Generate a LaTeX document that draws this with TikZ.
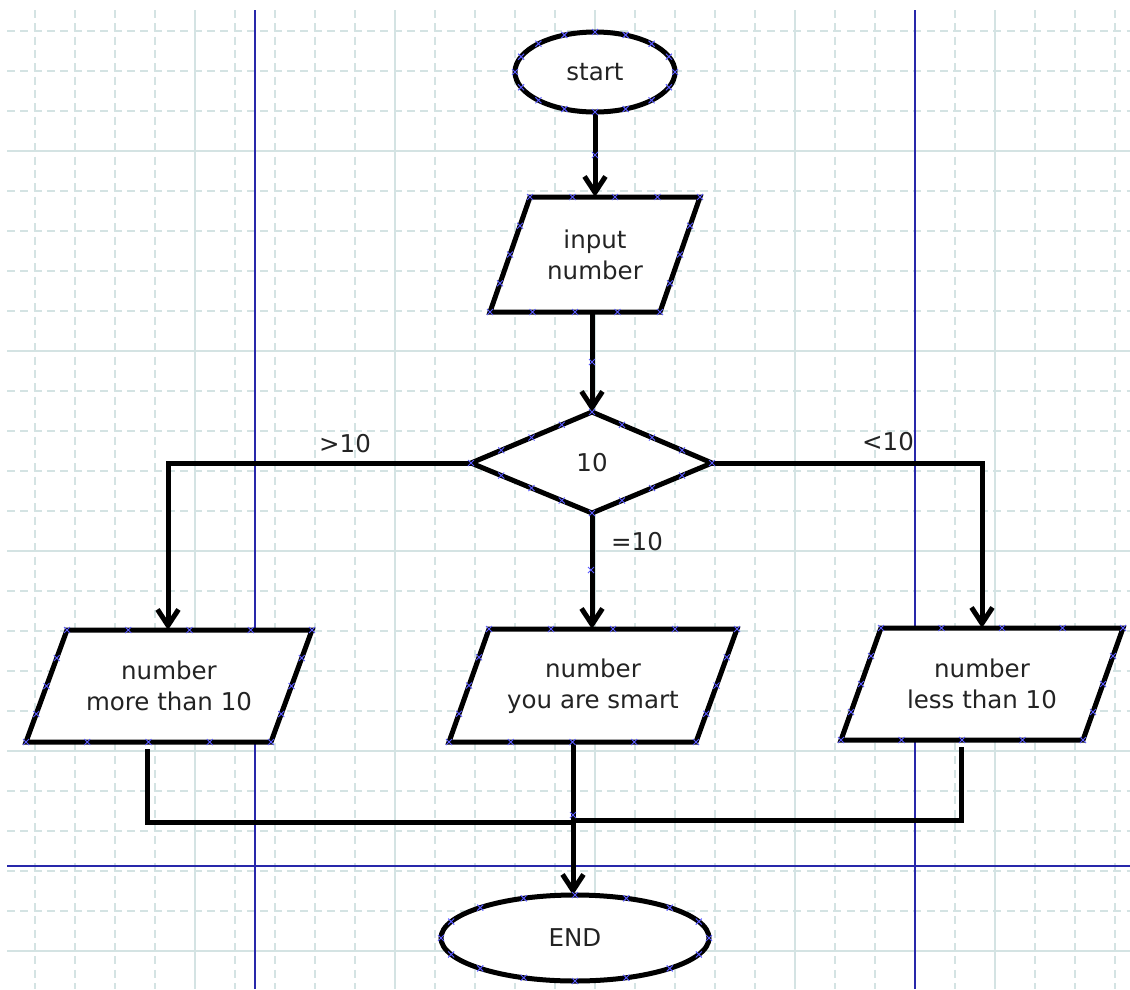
\documentclass[tikz,border=0pt]{standalone}
\usepackage{fontspec}
\setmainfont{DejaVu Sans}
\usetikzlibrary{arrows.meta,calc}
\definecolor{gridc}{RGB}{212,227,227}
\definecolor{bluec}{RGB}{40,40,170}
\definecolor{markc}{RGB}{90,90,255}
\definecolor{txtc}{RGB}{35,35,35}
\newcommand\xmk[1]{\draw[xm] #1 +(-3,-3)--+(3,3) #1 +(-3,3)--+(3,-3);}
\newcommand\edgemarks[2]{\foreach \t in {0,0.25,0.5,0.75}{\xmk{($#1!\t!#2$)}}}
\begin{document}
\begin{tikzpicture}[x=1pt,y=-1pt,
  gridd/.style={draw=gridc,line width=1.2pt,dash pattern=on 8pt off 5.33pt},
  grids/.style={draw=gridc,line width=1.2pt},
  guide/.style={draw=bluec,line width=1.6pt},
  shapeline/.style={draw=black,line width=5pt,fill=white,line join=miter},
  conn/.style={draw=black,line width=5pt,line join=miter},
  arr/.style={conn,-{Straight Barb[length=16pt,width=21pt]}},
  lbl/.style={text=txtc,font=\fontsize{24.5}{31}\selectfont,align=center,inner sep=0pt},
  xm/.style={draw=markc,line width=1pt}]
\useasboundingbox (0,0) rectangle (1130,989);
\fill[white] (0,0) rectangle (1130,989);
% grid
\foreach \gx in {35,75,...,1115}{
  \pgfmathtruncatemacro\gm{mod(\gx+5,200)}
  \ifnum\gm=0 \draw[grids] (\gx,10)--(\gx,989); \else \draw[gridd] (\gx,10)--(\gx,989); \fi}
\foreach \gy in {31,71,...,951}{
  \pgfmathtruncatemacro\gm{mod(\gy+49,200)}
  \ifnum\gm=0 \draw[grids] (7,\gy)--(1130,\gy); \else \draw[gridd] (7,\gy)--(1130,\gy); \fi}
% guides
\draw[guide] (255,10)--(255,989);
\draw[guide] (915,10)--(915,989);
\draw[guide] (7,866)--(1130,866);
% shapes
\draw[shapeline] (595,72) ellipse [x radius=80,y radius=40];
\draw[shapeline] (530,197)--(700,197)--(660,312)--(490,312)--cycle;
\draw[shapeline] (592,412)--(712,463)--(592,513)--(471,463)--cycle;
\draw[shapeline] (67,630)--(312,630)--(271,742)--(26,742)--cycle;
\draw[shapeline] (489,629)--(737,629)--(696,742)--(449,742)--cycle;
\draw[shapeline] (881,628)--(1123,628)--(1083,740)--(841,740)--cycle;
\draw[shapeline] (575,938) ellipse [x radius=134,y radius=43];
% texts
\node[lbl] (start) at (595,72) {start};
\node[lbl] (input) at (595,255) {input\\number};
\node[lbl] (dec) at (592,463) {10};
\node[lbl] (more) at (169,686) {number\\more than 10};
\node[lbl] (equal) at (593,686) {number\\you are smart};
\node[lbl] (less) at (982,684) {number\\less than 10};
\node[lbl] (endn) at (575,938) {END};
\node[lbl] (lgt) at (345,444) {>10};
\node[lbl] (llt) at (888,442) {<10};
\node[lbl] (leq) at (637,542) {=10};
% connector points
\coordinate (startS) at (595,112);
\coordinate (inputN) at (595,197);
\coordinate (inputS) at (592,312);
\coordinate (decN) at (592,412);
\coordinate (decW) at (471,463);
\coordinate (decE) at (712,463);
\coordinate (decS) at (592,513);
\coordinate (moreN) at (168,630);
\coordinate (equalN) at (592,629);
\coordinate (lessN) at (982,628);
\coordinate (moreS) at (147,749);
\coordinate (lessS) at (961,747);
\coordinate (equalS) at (573,742);
\coordinate (join) at (573,821);
\coordinate (endN) at (573,895);
% connectors
\draw[arr] (startS)--(inputN);
\draw[arr] (inputS)--(decN);
\draw[arr] (decW)-|(moreN);
\draw[arr] (decE)-|(lessN);
\draw[arr] (decS)--(equalN);
\draw[conn] (moreS)--(147,822)--(join|-0,822);
\draw[conn] (lessS)--(961,820)--(join|-0,820);
\draw[arr] (equalS)--(endN);
% connection marks
\foreach \a in {0,22.5,...,337.5}{\xmk{({595+80*cos(\a)},{72+40*sin(\a)})}}
\foreach \a in {0,22.5,...,337.5}{\xmk{({575+134*cos(\a)},{938+43*sin(\a)})}}
\edgemarks{(530,197)}{(700,197)}\edgemarks{(700,197)}{(660,312)}
\edgemarks{(660,312)}{(490,312)}\edgemarks{(490,312)}{(530,197)}
\edgemarks{(592,412)}{(712,463)}\edgemarks{(712,463)}{(592,513)}
\edgemarks{(592,513)}{(471,463)}\edgemarks{(471,463)}{(592,412)}
\edgemarks{(67,630)}{(312,630)}\edgemarks{(312,630)}{(271,742)}
\edgemarks{(271,742)}{(26,742)}\edgemarks{(26,742)}{(67,630)}
\edgemarks{(489,629)}{(737,629)}\edgemarks{(737,629)}{(696,742)}
\edgemarks{(696,742)}{(449,742)}\edgemarks{(449,742)}{(489,629)}
\edgemarks{(881,628)}{(1123,628)}\edgemarks{(1123,628)}{(1083,740)}
\edgemarks{(1083,740)}{(841,740)}\edgemarks{(841,740)}{(881,628)}
\xmk{(595,155)}\xmk{(592,362)}\xmk{(591,570)}\xmk{(573,815)}
\end{tikzpicture}
\end{document}
